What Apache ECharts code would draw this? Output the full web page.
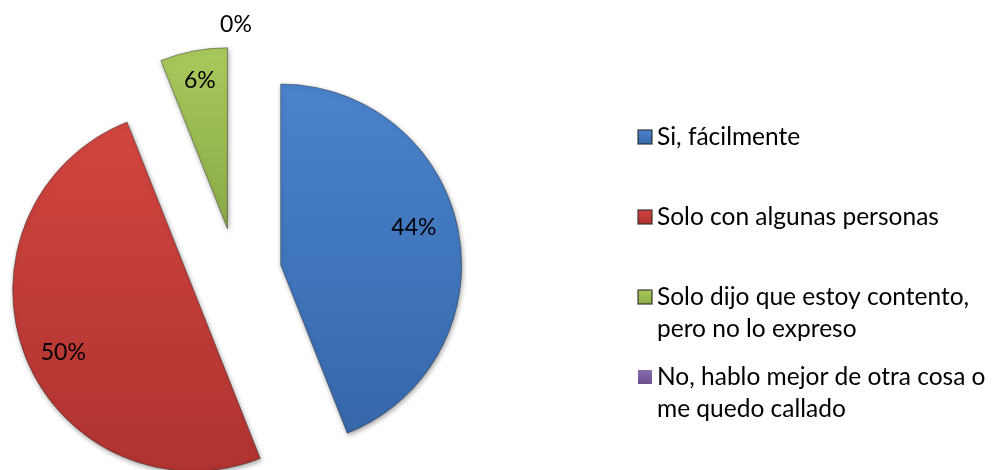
<!DOCTYPE html>
<html>
<head>
<meta charset="utf-8">
<script src="https://cdn.jsdelivr.net/npm/echarts@6/dist/echarts.min.js"></script>
<style>
  html, body { margin: 0; padding: 0; background: #ffffff; }
  #chart { width: 994px; height: 470px; }
</style>
</head>
<body>
<div id="chart"></div>
<script>
// Answer categories (line breaks are where the legend wraps)
const categories = [
  'Si, fácilmente',
  'Solo con algunas personas',
  'Solo dijo que estoy contento,\npero no lo expreso',
  'No, hablo mejor de otra cosa o\nme quedo callado'
];
// Share of answers, in percent
const shares = [44, 50, 6, 0];
// Top / bottom shade of each slice
const sliceShades = [
  ['#4a83cd', '#3668aa'],
  ['#d2453f', '#af3330'],
  ['#a9c95c', '#8aab47'],
  ['#8a6cb1', '#6a4f8d']
];

const FONT = 'Lato';
const CENTER = [236, 273.5];
const RADIUS = 181;
const EXPLODE = 45.5;
// Small per-slice nudges of the value labels (px)
const LABEL_NUDGE = [[-12, -10], [7, 8], [0, -3], [0, 3]];

function shade(pair) {
  return new echarts.graphic.LinearGradient(0, 0, 0, 1, [
    { offset: 0, color: pair[0] },
    { offset: 1, color: pair[1] }
  ]);
}

const percentText = p => Math.round(p.percent) + '%';

const sliceStyle = {
  borderColor: 'rgba(40,40,40,0.55)',
  borderWidth: 0.8,
  shadowBlur: 5,
  shadowColor: 'rgba(0,0,0,0.35)',
  shadowOffsetX: 1,
  shadowOffsetY: 2
};

const sliceData = categories.map((name, i) => ({
  name: name,
  value: shares[i],
  selected: true,
  itemStyle: shares[i] > 0
    ? Object.assign({}, sliceStyle, { color: shade(sliceShades[i]) })
    : { color: shade(sliceShades[i]), borderWidth: 0, shadowBlur: 0, shadowColor: 'rgba(0,0,0,0)' }
}));

// Transparent copies of the slices that only carry the value labels
function labelData(showFor) {
  return categories.map((name, i) => ({
    name: name,
    value: shares[i],
    selected: true,
    label: { show: showFor(shares[i]) }
  }));
}

const common = {
  type: 'pie',
  center: CENTER,
  startAngle: 90,
  clockwise: true,
  selectedMode: 'multiple',
  selectedOffset: EXPLODE,
  avoidLabelOverlap: false,
  labelLine: { show: false },
  emphasis: { disabled: true },
  animation: false
};

const labelStyle = {
  position: 'inside',
  formatter: percentText,
  fontFamily: FONT,
  fontSize: 23,
  color: '#000000'
};

const nudge = p => ({ dx: LABEL_NUDGE[p.dataIndex][0], dy: LABEL_NUDGE[p.dataIndex][1] });

const chart = echarts.init(document.getElementById('chart'), null, { renderer: 'canvas' });

chart.setOption({
  backgroundColor: '#ffffff',
  legend: {
    orient: 'vertical',
    left: 637,
    top: 89,
    padding: 0,
    icon: 'rect',
    itemWidth: 14,
    itemHeight: 14,
    itemGap: -16,
    selectedMode: false,
    data: categories,
    formatter: name => '\n' + name + (name.indexOf('\n') >= 0 ? '' : '\n'),
    textStyle: { fontFamily: FONT, fontSize: 24.5, color: '#000000', lineHeight: 32 }
  },
  series: [
    Object.assign({}, common, {
      name: 'slices',
      radius: RADIUS,
      label: { show: false },
      data: sliceData
    }),
    Object.assign({}, common, {
      name: 'inner labels',
      radius: [RADIUS * 0.6, RADIUS],
      silent: true,
      itemStyle: { color: 'rgba(0,0,0,0)' },
      label: labelStyle,
      labelLayout: nudge,
      data: labelData(v => v > 0)
    }),
    Object.assign({}, common, {
      name: 'outer labels',
      radius: [RADIUS + 10, RADIUS + 34],
      silent: true,
      itemStyle: { color: 'rgba(0,0,0,0)' },
      label: labelStyle,
      labelLayout: nudge,
      data: labelData(v => v === 0)
    })
  ]
});
</script>
</body>
</html>
